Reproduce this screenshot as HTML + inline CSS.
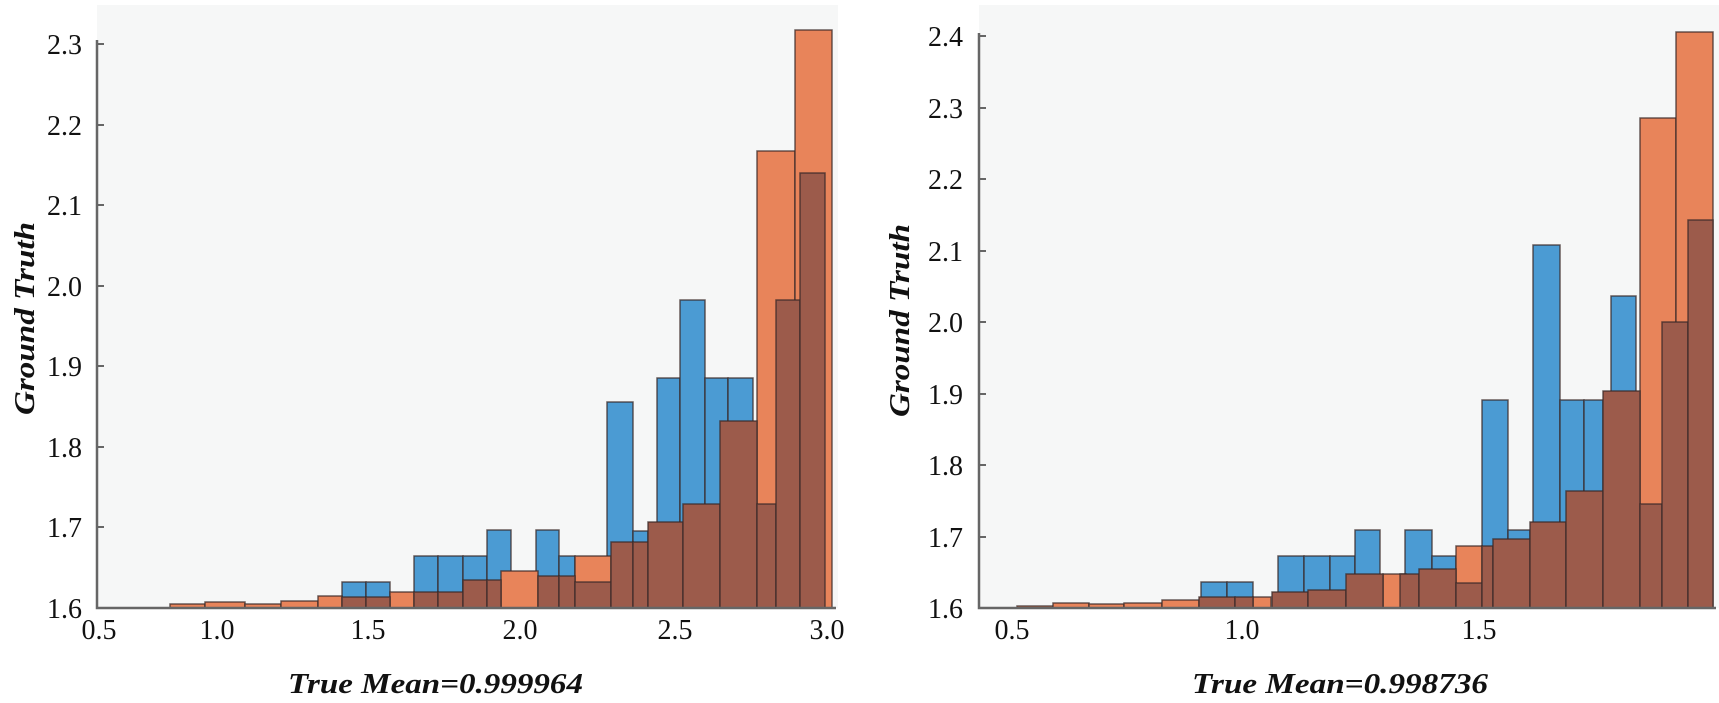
<!DOCTYPE html>
<html><head><meta charset="utf-8"><style>html,body{margin:0;padding:0;background:#fff}svg{display:block}</style></head>
<body>
<svg width="1719" height="703" viewBox="0 0 1719 703" xmlns="http://www.w3.org/2000/svg" font-family='"Liberation Serif", serif'>
<rect x="97" y="5" width="741" height="603" fill="#f6f7f7"/>
<rect x="979" y="5" width="740" height="603" fill="#f6f7f7"/>
<g stroke="#3a2a28" stroke-opacity="0.75" stroke-width="1.5">
<g fill="#4b9bd3">
<rect x="342" y="582" width="24" height="26"/><rect x="366" y="582" width="24" height="26"/>
<rect x="414" y="556" width="24" height="52"/><rect x="438" y="556" width="25" height="52"/><rect x="463" y="556" width="24" height="52"/>
<rect x="487" y="530" width="24" height="78"/><rect x="536" y="530" width="23" height="78"/><rect x="559" y="556" width="16" height="52"/>
<rect x="607" y="402" width="26" height="206"/><rect x="633" y="531" width="15" height="77"/>
<rect x="657" y="378" width="23" height="230"/><rect x="680" y="300" width="25" height="308"/><rect x="705" y="378" width="23" height="230"/><rect x="728" y="378" width="25" height="230"/>
<rect x="1201" y="582" width="26" height="26"/><rect x="1227" y="582" width="26" height="26"/>
<rect x="1278" y="556" width="26" height="52"/><rect x="1304" y="556" width="26" height="52"/><rect x="1330" y="556" width="25" height="52"/>
<rect x="1355" y="530" width="25" height="78"/><rect x="1405" y="530" width="27" height="78"/><rect x="1432" y="556" width="24" height="52"/>
<rect x="1482" y="400" width="26" height="208"/><rect x="1508" y="530" width="22" height="78"/><rect x="1533" y="245" width="27" height="363"/>
<rect x="1560" y="400" width="24" height="208"/><rect x="1584" y="400" width="19" height="208"/><rect x="1611" y="296" width="25" height="312"/>
</g>
<g fill="#e8845a">
<rect x="170" y="604" width="35" height="4"/><rect x="205" y="602" width="40" height="6"/><rect x="245" y="604" width="36" height="4"/><rect x="281" y="601" width="37" height="7"/><rect x="318" y="596" width="24" height="12"/>
<rect x="390" y="592" width="24" height="16"/><rect x="501" y="571" width="37" height="37"/><rect x="575" y="556" width="36" height="52"/>
<rect x="757" y="151" width="38" height="457"/><rect x="795" y="30" width="37" height="578"/>
<rect x="1017" y="606" width="36" height="2"/><rect x="1053" y="603" width="36" height="5"/><rect x="1089" y="604" width="35" height="4"/><rect x="1124" y="603" width="38" height="5"/><rect x="1162" y="600" width="37" height="8"/>
<rect x="1253" y="597" width="18" height="11"/><rect x="1383" y="574" width="23" height="34"/><rect x="1456" y="546" width="26" height="62"/>
<rect x="1640" y="118" width="36" height="490"/><rect x="1676" y="32" width="37" height="576"/>
</g>
<g fill="#9c5b4b">
<rect x="342" y="597" width="24" height="11"/><rect x="366" y="597" width="24" height="11"/>
<rect x="414" y="592" width="24" height="16"/><rect x="438" y="592" width="25" height="16"/>
<rect x="463" y="580" width="24" height="28"/><rect x="487" y="580" width="14" height="28"/>
<rect x="538" y="576" width="21" height="32"/><rect x="559" y="576" width="16" height="32"/>
<rect x="575" y="582" width="36" height="26"/><rect x="611" y="542" width="22" height="66"/><rect x="633" y="542" width="15" height="66"/>
<rect x="648" y="522" width="35" height="86"/><rect x="683" y="504" width="37" height="104"/><rect x="720" y="421" width="37" height="187"/>
<rect x="757" y="504" width="19" height="104"/><rect x="776" y="300" width="24" height="308"/><rect x="800" y="173" width="25" height="435"/>
<rect x="1199" y="597" width="36" height="11"/><rect x="1235" y="597" width="18" height="11"/>
<rect x="1272" y="592" width="36" height="16"/><rect x="1308" y="590" width="38" height="18"/><rect x="1346" y="574" width="37" height="34"/>
<rect x="1400" y="574" width="19" height="34"/><rect x="1419" y="569" width="37" height="39"/><rect x="1456" y="583" width="26" height="25"/>
<rect x="1482" y="546" width="11" height="62"/><rect x="1493" y="539" width="37" height="69"/><rect x="1530" y="522" width="36" height="86"/>
<rect x="1566" y="491" width="37" height="117"/><rect x="1603" y="391" width="37" height="217"/><rect x="1640" y="504" width="22" height="104"/>
<rect x="1662" y="322" width="26" height="286"/><rect x="1688" y="220" width="25" height="388"/>
</g>
</g>
<g stroke="#666" stroke-width="2.5" fill="none">
<path d="M97 40 V608 H836"/>
<path d="M979 33 V608 H1716"/>
</g>
<g stroke="#666" stroke-width="2">
<path d="M97 44h7M97 125h7M97 205h7M97 286h7M97 366h7M97 447h7M97 527h7"/>
<path d="M979 36h7M979 108h7M979 179h7M979 251h7M979 322h7M979 394h7M979 465h7M979 537h7"/>
</g>
<g font-size="28" fill="#111" text-anchor="end">
<text x="82" y="54">2.3</text><text x="82" y="135">2.2</text><text x="82" y="215">2.1</text><text x="82" y="296">2.0</text>
<text x="82" y="376">1.9</text><text x="82" y="457">1.8</text><text x="82" y="537">1.7</text><text x="82" y="618">1.6</text>
<text x="963" y="46">2.4</text><text x="963" y="118">2.3</text><text x="963" y="189">2.2</text><text x="963" y="261">2.1</text>
<text x="963" y="332">2.0</text><text x="963" y="404">1.9</text><text x="963" y="475">1.8</text><text x="963" y="547">1.7</text><text x="963" y="618">1.6</text>
</g>
<g font-size="28" fill="#111" text-anchor="middle">
<text x="99" y="639">0.5</text><text x="217" y="639">1.0</text><text x="368" y="639">1.5</text><text x="520" y="639">2.0</text><text x="675" y="639">2.5</text><text x="827" y="639">3.0</text>
<text x="1012" y="639">0.5</text><text x="1242" y="639">1.0</text><text x="1479" y="639">1.5</text>
</g>
<g font-size="29" font-weight="bold" font-style="italic" fill="#111">
<text x="288" y="693" textLength="295" lengthAdjust="spacingAndGlyphs">True Mean=0.999964</text>
<text x="1192" y="693" textLength="296" lengthAdjust="spacingAndGlyphs">True Mean=0.998736</text>
<text transform="translate(34,415) rotate(-90)" textLength="193" lengthAdjust="spacingAndGlyphs">Ground Truth</text>
<text transform="translate(909,417) rotate(-90)" textLength="193" lengthAdjust="spacingAndGlyphs">Ground Truth</text>
</g>
</svg>
</body></html>
